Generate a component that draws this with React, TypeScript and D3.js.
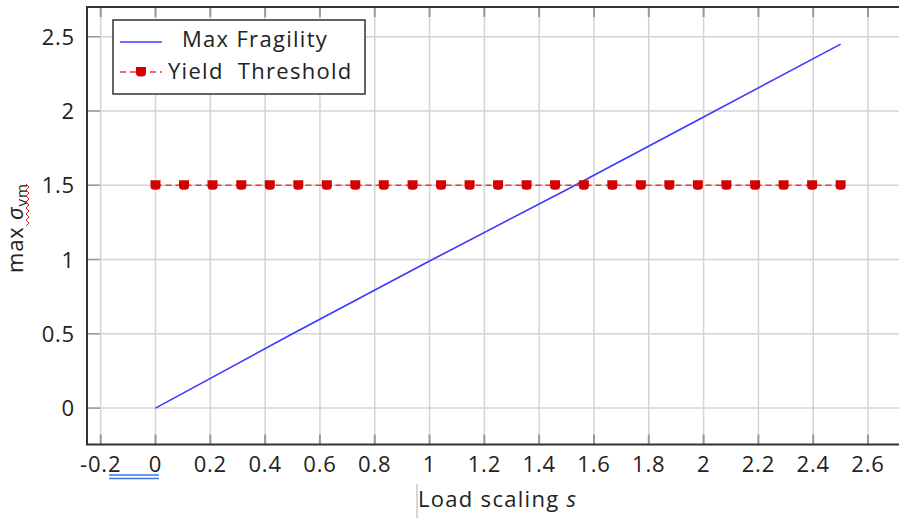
import { useEffect, useRef } from 'react';
import * as d3 from 'd3';

// Load scaling s at each sample
const sValues = [
  0, 0.104, 0.208, 0.313, 0.417, 0.521, 0.625, 0.729, 0.833, 0.938, 1.042, 1.146, 1.25,
  1.354, 1.458, 1.563, 1.667, 1.771, 1.875, 1.979, 2.083, 2.188, 2.292, 2.396, 2.5
];
const yieldValues = [
  1.5, 1.5, 1.5, 1.5, 1.5, 1.5, 1.5, 1.5, 1.5, 1.5, 1.5, 1.5, 1.5,
  1.5, 1.5, 1.5, 1.5, 1.5, 1.5, 1.5, 1.5, 1.5, 1.5, 1.5, 1.5
];
const fragilityS = [0, 0.5, 1, 1.5, 2, 2.5];
const fragilityValues = [0, 0.5, 0.99, 1.47, 1.96, 2.45];

const xTicks = [-0.2, 0, 0.2, 0.4, 0.6, 0.8, 1, 1.2, 1.4, 1.6, 1.8, 2, 2.2, 2.4, 2.6];
const xTickLabels = ['-0.2', '0', '0.2', '0.4', '0.6', '0.8', '1', '1.2', '1.4', '1.6', '1.8', '2', '2.2', '2.4', '2.6'];
const yTicks = [0, 0.5, 1, 1.5, 2, 2.5];
const yTickLabels = ['0', '0.5', '1', '1.5', '2', '2.5'];

const FONT = '"Open Sans", "Noto Sans", sans-serif';

export default function App() {
  const ref = useRef<SVGSVGElement | null>(null);

  useEffect(() => {
    if (!ref.current) return;
    const svg = d3.select(ref.current);
    svg.selectAll('*').remove();

    const W = 899, H = 518;
    const left = 87, top = 7, bottom = 444.5;

    const x = d3.scaleLinear().domain([-0.25, 2.713]).range([left, W]);
    const y = d3.scaleLinear().domain([-0.245, 2.7]).range([bottom, top]);

    svg.append('rect').attr('width', W).attr('height', H).attr('fill', '#fff');

    // Grid
    svg.selectAll('.vgrid').data(xTicks).enter().append('line')
      .attr('x1', d => x(d)).attr('x2', d => x(d))
      .attr('y1', top).attr('y2', bottom)
      .attr('stroke', '#d4d4d4').attr('stroke-width', 1.5);
    svg.selectAll('.hgrid').data(yTicks).enter().append('line')
      .attr('x1', left).attr('x2', W)
      .attr('y1', d => y(d)).attr('y2', d => y(d))
      .attr('stroke', '#d4d4d4').attr('stroke-width', 1.5);

    // Inner tick marks
    const tickLen = 10;
    xTicks.forEach(t => {
      svg.append('line').attr('x1', x(t)).attr('x2', x(t)).attr('y1', top).attr('y2', top + tickLen)
        .attr('stroke', '#999').attr('stroke-width', 2);
      svg.append('line').attr('x1', x(t)).attr('x2', x(t)).attr('y1', bottom).attr('y2', bottom - tickLen)
        .attr('stroke', '#999').attr('stroke-width', 2);
    });
    yTicks.forEach(t => {
      svg.append('line').attr('x1', left).attr('x2', left + 13).attr('y1', y(t)).attr('y2', y(t))
        .attr('stroke', '#999').attr('stroke-width', 1.5);
    });

    // Frame
    svg.append('path')
      .attr('d', `M${W},${top}H${left}V${bottom}H${W}`)
      .attr('fill', 'none').attr('stroke', '#333').attr('stroke-width', 2);

    // Tick labels
    svg.selectAll('.xlab').data(xTicks).enter().append('text')
      .attr('x', d => x(d)).attr('y', 472)
      .attr('text-anchor', 'middle')
      .attr('font-family', FONT).attr('font-size', 22).attr('letter-spacing', 0.8).attr('fill', '#222')
      .text((d, i) => xTickLabels[i]);
    svg.selectAll('.ylab').data(yTicks).enter().append('text')
      .attr('x', 75).attr('y', d => y(d) + 8)
      .attr('text-anchor', 'end')
      .attr('font-family', FONT).attr('font-size', 22).attr('letter-spacing', 0.8).attr('fill', '#222')
      .text((d, i) => yTickLabels[i]);

    // Double underline under "-0.2  0"
    [475, 478.5].forEach(yy => {
      svg.append('line').attr('x1', 109).attr('x2', 159).attr('y1', yy).attr('y2', yy)
        .attr('stroke', '#3c78e6').attr('stroke-width', 1.3);
    });

    // Axis labels
    svg.append('line').attr('x1', 417).attr('x2', 417).attr('y1', 484).attr('y2', 518)
      .attr('stroke', '#bbb').attr('stroke-width', 1.2);
    const xl = svg.append('text').attr('x', 418).attr('y', 507)
      .attr('font-family', FONT).attr('font-size', 22).attr('letter-spacing', 1.3).attr('fill', '#222');
    xl.append('tspan').text('Load scaling ');
    xl.append('tspan').attr('font-style', 'italic').text('s');

    const yl = svg.append('text')
      .attr('transform', 'translate(23,273) rotate(-90)')
      .attr('font-family', FONT).attr('font-size', 22).attr('letter-spacing', 0.8).attr('fill', '#222');
    yl.append('tspan').text('max ');
    yl.append('tspan').attr('font-style', 'italic').text('σ');
    yl.append('tspan').attr('font-size', 15).attr('dy', 4).text('vm');

    // Red wavy spell-check underline (vertical, right of σvm)
    const wave: [number, number][] = [];
    for (let i = 0; i <= 14; i++) wave.push([i % 2 === 0 ? 26 : 29, 226 - i * 3]);
    svg.append('path').attr('d', d3.line()(wave)!)
      .attr('fill', 'none').attr('stroke', '#e02020').attr('stroke-width', 1);

    // Max Fragility line
    const fragData = fragilityS.map((s, i) => [s, fragilityValues[i]] as [number, number]);
    svg.append('path').datum(fragData)
      .attr('d', d3.line<[number, number]>().x(d => x(d[0])).y(d => y(d[1])))
      .attr('fill', 'none').attr('stroke', '#3a3aff').attr('stroke-width', 1.6);

    // Yield threshold
    const yieldData = sValues.map((s, i) => [s, yieldValues[i]] as [number, number]);
    svg.append('path').datum(yieldData)
      .attr('d', d3.line<[number, number]>().x(d => x(d[0])).y(d => y(d[1])))
      .attr('fill', 'none').attr('stroke', '#ff3030').attr('stroke-width', 1.6)
      .attr('stroke-dasharray', '6,4');

    const marker = (cx: number, cy: number) =>
      `M${cx - 5},${cy - 5}H${cx + 5}V${cy + 1}Q${cx + 5},${cy + 4.5} ${cx + 1},${cy + 4.5}H${cx - 1}Q${cx - 5},${cy + 4.5} ${cx - 5},${cy + 1}Z`;
    svg.selectAll('.mk').data(yieldData).enter().append('path')
      .attr('d', d => marker(x(d[0]), y(d[1])))
      .attr('fill', '#d40000');

    // Legend
    const lg = svg.append('g');
    lg.append('rect').attr('x', 113).attr('y', 20).attr('width', 252).attr('height', 74)
      .attr('fill', '#fff').attr('stroke', '#333').attr('stroke-width', 1.5);
    lg.append('line').attr('x1', 120).attr('x2', 162).attr('y1', 42).attr('y2', 42)
      .attr('stroke', '#3a3aff').attr('stroke-width', 1.6);
    lg.append('text').attr('x', 182).attr('y', 47)
      .attr('font-family', FONT).attr('font-size', 22).attr('letter-spacing', 1.3).attr('fill', '#222')
      .style('white-space', 'pre')
      .text('Max Fragility');
    lg.append('line').attr('x1', 120).attr('x2', 162).attr('y1', 72).attr('y2', 72)
      .attr('stroke', '#ff3030').attr('stroke-width', 1.6).attr('stroke-dasharray', '6,4');
    lg.append('path').attr('d', marker(141, 72)).attr('fill', '#d40000');
    lg.append('text').attr('x', 168).attr('y', 79)
      .attr('font-family', FONT).attr('font-size', 22).attr('letter-spacing', 1.3).attr('fill', '#222')
      .style('white-space', 'pre')
      .text('Yield  Threshold');
  }, []);

  return (
    <svg
      ref={ref}
      width={899}
      height={518}
      style={{ position: 'fixed', left: 0, top: 0, display: 'block' }}
    />
  );
}
